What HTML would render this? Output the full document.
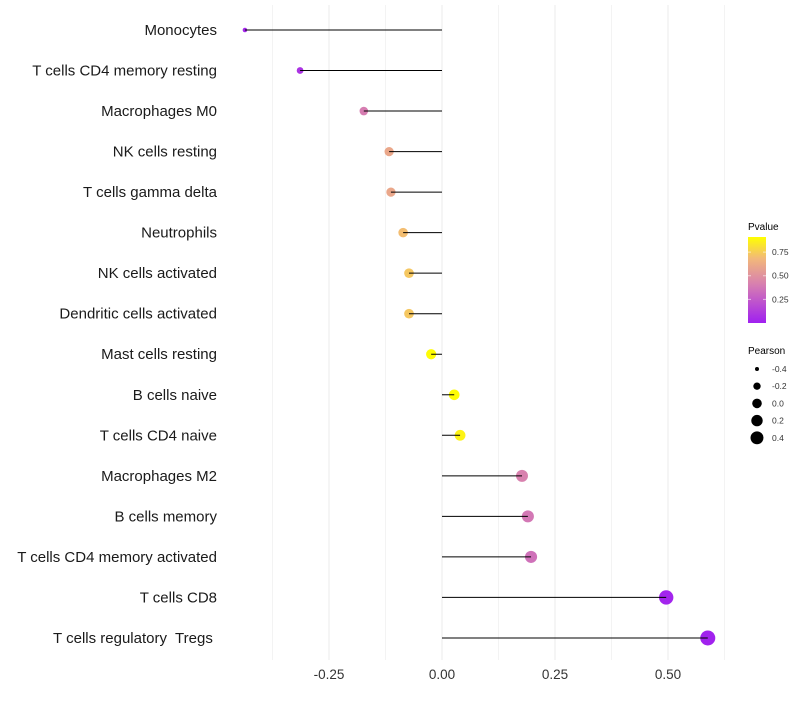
<!DOCTYPE html>
<html><head><meta charset="utf-8"><style>
body{margin:0;background:#fff;}
svg{font-family:"Liberation Sans",Arial,sans-serif;}
</style></head><body>
<svg id="chart" width="800" height="700">
<defs><linearGradient id="pg" x1="0" y1="1" x2="0" y2="0">
<stop offset="0" stop-color="#A020F0"/><stop offset="0.45" stop-color="#D77FB0"/><stop offset="0.75" stop-color="#F2B87A"/><stop offset="1" stop-color="#FFFF00"/>
</linearGradient></defs>
<g id="grid"></g><g id="marks"></g><g id="labels"></g><g id="xaxis"></g>
<g id="legend"></g>
</svg>
<script>
const categories=["Monocytes","T cells CD4 memory resting","Macrophages M0","NK cells resting","T cells gamma delta","Neutrophils","NK cells activated","Dendritic cells activated","Mast cells resting","B cells naive","T cells CD4 naive","Macrophages M2","B cells memory","T cells CD4 memory activated","T cells CD8","T cells regulatory  Tregs "];
const pearson=[-0.436,-0.314,-0.173,-0.117,-0.113,-0.086,-0.073,-0.073,-0.024,0.027,0.04,0.177,0.19,0.197,0.496,0.588];
const pvalue=[0.03,0.08,0.4,0.6,0.6,0.7,0.73,0.73,0.9,0.9,0.87,0.42,0.38,0.35,0.02,0.01];
const xTicks=[-0.25,0,0.25,0.5];
const xTickLabels=["-0.25","0.00","0.25","0.50"];
const pTicks=[0.25,0.5,0.75];
const sizeTicks=[-0.4,-0.2,0,0.2,0.4];

const NS="http://www.w3.org/2000/svg";
function mk(tag,attrs,parent){const e=document.createElementNS(NS,tag);for(const k in attrs)e.setAttribute(k,attrs[k]);parent.appendChild(e);return e;}
const x=v=>442+v*452;
const y=i=>30+i*40.53;
const pMax=0.91;
const stops=[[0,[160,32,240]],[0.45,[215,127,176]],[0.75,[242,184,122]],[1,[255,255,0]]];
function color(p){let t=Math.max(0,Math.min(1,p/pMax));for(let i=1;i<stops.length;i++){if(t<=stops[i][0]){const a=stops[i-1],b=stops[i];const f=(t-a[0])/(b[0]-a[0]);const c=a[1].map((v,j)=>Math.round(v+(b[1][j]-v)*f));return `rgb(${c})`;}}return "rgb(255,255,0)";}
const r=v=>Math.sqrt(Math.max(3,27+50*v));
const rl=v=>Math.sqrt(Math.max(2.2,23+47.5*v));

const grid=document.getElementById('grid');
for(let v=-0.375;v<=0.63;v+=0.125){const l=mk('line',{x1:x(v),x2:x(v),y1:5,y2:660,stroke:Math.abs((v*4)%1)<1e-6?'#ebebeb':'#f3f3f3','stroke-width':1},grid);

}

const marks=document.getElementById('marks'),labels=document.getElementById('labels');
categories.forEach((c,i)=>{
 const pt=mk('circle',{cx:x(pearson[i]),cy:y(i),r:r(pearson[i]),fill:color(pvalue[i])},marks);
 
 
 const ln=mk('line',{x1:x(0),x2:x(pearson[i]),y1:y(i),y2:y(i),stroke:'#000','stroke-width':1},marks);
 
 
 const t=mk('text',{x:217,y:y(i)+5,'text-anchor':'end','font-size':15,fill:'#1a1a1a',style:'white-space:pre'},labels);
 t.textContent=c;
 
 
});
const xa=document.getElementById('xaxis');
xTicks.forEach((v,i)=>{const t=mk('text',{x:x(v),y:679,'text-anchor':'middle','font-size':13.5,fill:'#333'},xa);t.textContent=xTickLabels[i];

});

const lg=document.getElementById('legend');
let tt=mk('text',{x:748,y:230,'font-size':10,fill:'#000'},lg);tt.textContent='Pvalue';


const bar=mk('rect',{x:748,y:237,width:18,height:86,fill:'url(#pg)'},lg);


const py=p=>323-p/pMax*86;
pTicks.forEach(p=>{mk('line',{x1:748,x2:751,y1:py(p),y2:py(p),stroke:'#fff','stroke-opacity':0.6},lg);mk('line',{x1:763,x2:766,y1:py(p),y2:py(p),stroke:'#fff','stroke-opacity':0.6},lg);
const t=mk('text',{x:772,y:py(p)+3,'font-size':8.5,fill:'#333'},lg);t.textContent=p.toFixed(2);

});
tt=mk('text',{x:748,y:354,'font-size':10,fill:'#000'},lg);tt.textContent='Pearson';


sizeTicks.forEach((v,i)=>{const cy=369+i*17.2;const c=mk('circle',{cx:757,cy:cy,r:rl(v),fill:'#000'},lg);


const t=mk('text',{x:772,y:cy+3,'font-size':8.5,fill:'#333'},lg);t.textContent=v.toFixed(1);

});
</script>
</body></html>
